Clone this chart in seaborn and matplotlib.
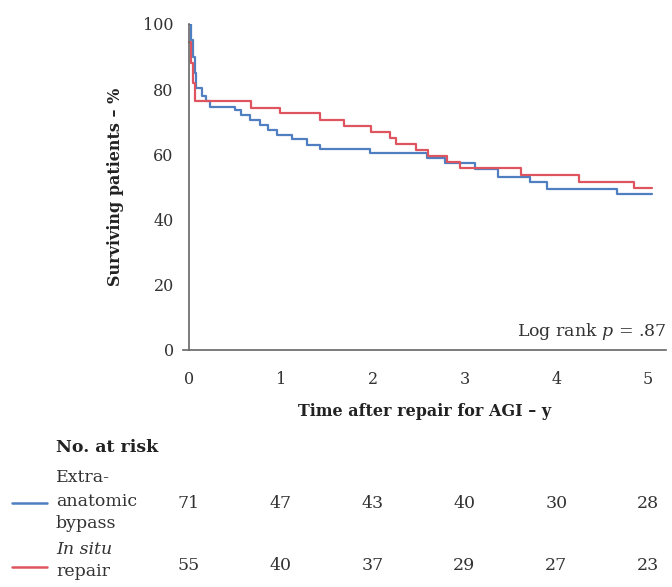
import pandas as pd
import seaborn as sns
import matplotlib.pyplot as plt
import matplotlib.transforms as mtransforms

# Kaplan-Meier steps (years, % surviving)
t_extra = [0, 0.02, 0.04, 0.06, 0.08, 0.14, 0.18, 0.23, 0.50, 0.57, 0.66, 0.77, 0.86,
           0.96, 1.12, 1.28, 1.43, 1.97, 2.59, 2.79, 2.95, 3.12, 3.37, 3.71, 3.90, 4.66, 5.04]
s_extra = [100, 95, 90, 85, 80.4, 78, 76.4, 74.6, 73.6, 72.1, 70.6, 69, 67.5,
           66, 64.6, 62.9, 61.6, 60.3, 58.8, 57.3, 57.3, 55.5, 53, 51.6, 49.4, 47.9, 47.9]

t_insitu = [0, 0.02, 0.04, 0.065, 0.675, 0.99, 1.43, 1.69, 1.98, 2.19, 2.26, 2.47,
            2.60, 2.81, 2.95, 3.62, 4.25, 4.85, 5.04]
s_insitu = [94.6, 88, 82, 76.5, 74.3, 72.6, 70.6, 68.7, 67, 65.1, 63.1, 61.3,
            59.5, 57.8, 55.7, 53.7, 51.6, 49.6, 49.6]

groups = ["Extra-anatomic bypass", "In situ repair"]
colors = ["#4f7fc0", "#de5560"]

years = [0, 1, 2, 3, 4, 5]
risk_extra = [71, 47, 43, 40, 30, 28]
risk_insitu = [55, 40, 37, 29, 27, 23]

df = pd.concat([
    pd.DataFrame({"t": t_extra, "s": s_extra, "group": groups[0]}),
    pd.DataFrame({"t": t_insitu, "s": s_insitu, "group": groups[1]}),
])

sns.set_style("white")
plt.rcParams["font.family"] = ["DejaVu Serif"]
plt.rcParams["mathtext.fontset"] = "custom"
plt.rcParams["mathtext.it"] = "DejaVu Serif:italic"
plt.rcParams["mathtext.rm"] = "DejaVu Serif"

W, H = 672, 587
fig = plt.figure(figsize=(W / 100, H / 100), dpi=100)
x0, x1 = -0.06, 5.2
px_per_year = 91.8
ax = fig.add_axes([(189 + x0 * px_per_year) / W, 1 - 350 / H,
                   (x1 - x0) * px_per_year / W, 326 / H])

sns.lineplot(data=df, x="t", y="s", hue="group", palette=colors, estimator=None,
             drawstyle="steps-post", linewidth=1.6, legend=False, ax=ax)

ax.set_xlim(x0, x1)
ax.set_ylim(0, 100)
ax.spines["left"].set_position(("data", 0))
ax.spines["left"].set_bounds(0, 100)
for sp in ["top", "right"]:
    ax.spines[sp].set_visible(False)
for sp in ["left", "bottom"]:
    ax.spines[sp].set_color("#666666")
    ax.spines[sp].set_linewidth(1.2)
ax.set_xticks(years)
ax.set_yticks([0, 20, 40, 60, 80, 100])
ax.tick_params(direction="out", length=5, width=1.1, color="#666666",
               labelsize=11.5, labelcolor="#333333")
ax.tick_params(axis="x", pad=10)
ax.tick_params(axis="y", pad=6)
ax.set_xlabel("Time after repair for AGI – y", fontsize=11.5, fontweight="bold",
              color="#222222", labelpad=11)
ax.set_ylabel("Surviving patients – %", fontsize=11.5, fontweight="bold",
              color="#222222", labelpad=14)

ax.text(1.0, 0.025, "Log rank $p$ = .87", transform=ax.transAxes, ha="right",
        va="bottom", fontsize=12.5, color="#333333")

# number at risk table
tr = mtransforms.blended_transform_factory(ax.transData, fig.transFigure)
fy = lambda py: 1 - py / H
fs = 12.5
lx = 56 / W
fig.text(lx, fy(448), "No. at risk", fontsize=fs, fontweight="bold",
         color="#222222", va="center")
fig.text(lx, fy(478), "Extra-", fontsize=fs, color="#333333", va="center")
fig.text(lx, fy(502), "anatomic", fontsize=fs, color="#333333", va="center")
fig.text(lx, fy(524), "bypass", fontsize=fs, color="#333333", va="center")
fig.text(lx, fy(549), "In situ", fontsize=fs, style="italic", color="#333333",
         va="center")
fig.text(lx, fy(571), "repair", fontsize=fs, color="#333333", va="center")

for yr, a, b in zip(years, risk_extra, risk_insitu):
    ax.text(yr, fy(503), str(a), transform=tr, ha="center", va="center",
            fontsize=fs, color="#333333", clip_on=False)
    ax.text(yr, fy(566), str(b), transform=tr, ha="center", va="center",
            fontsize=fs, color="#333333", clip_on=False)

for py, c in zip([503, 567], colors):
    fig.add_artist(plt.Line2D([12 / W, 47 / W], [fy(py), fy(py)], color=c,
                              linewidth=1.8, transform=fig.transFigure))

fig.savefig("out.png", dpi=100)
